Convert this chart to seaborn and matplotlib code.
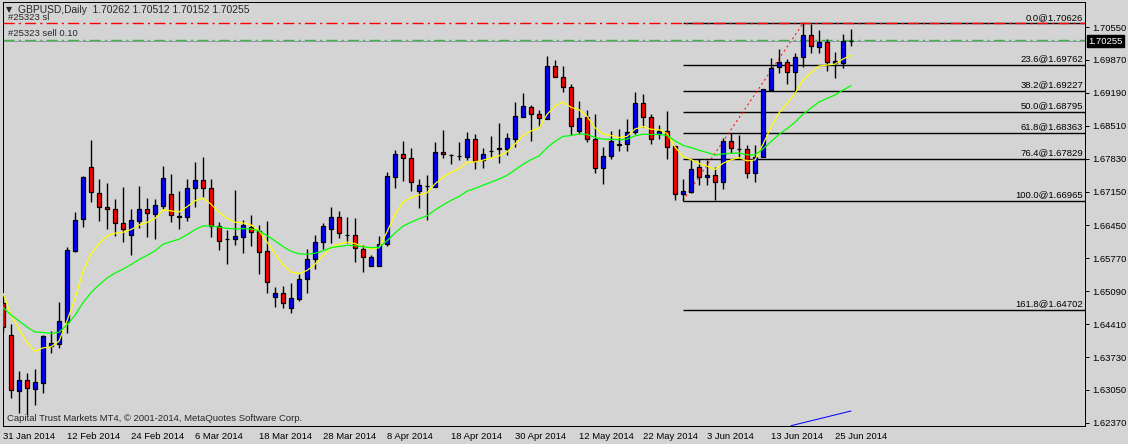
import numpy as np
import pandas as pd
import matplotlib
matplotlib.use("Agg")
import matplotlib.pyplot as plt
import seaborn as sns

W, H = 1128, 444
BG = "#D4D4D4"

# GBPUSD daily candles, 31 Jan 2014 .. 27 Jun 2014
opens = [1.64841, 1.64186, 1.63036, 1.63257, 1.63065, 1.63201, 1.63965, 1.63994, 1.64461, 1.65922,
         1.66577, 1.67651, 1.67114, 1.66825, 1.66784, 1.66494, 1.66246, 1.66548, 1.66784, 1.66680,
         1.66858, 1.67093, 1.66631, 1.66631, 1.67215, 1.67389, 1.67217, 1.66445, 1.66170, 1.66164,
         1.66217, 1.66412, 1.66335, 1.65922, 1.64978, 1.65048, 1.64738, 1.64924, 1.65337, 1.65750,
         1.66114, 1.66370, 1.66618, 1.66257, 1.66246, 1.65957, 1.65618, 1.65618, 1.66060, 1.67461,
         1.67926, 1.67837, 1.67168, 1.67275, 1.67250, 1.67961, 1.67905, 1.67885, 1.67870, 1.68236,
         1.67802, 1.67994, 1.68023, 1.68036, 1.68242, 1.68697, 1.68891, 1.68746, 1.68649, 1.69738,
         1.69511, 1.69304, 1.68408, 1.68684, 1.68230, 1.67643, 1.67891, 1.68133, 1.68127, 1.68374,
         1.68974, 1.68684, 1.68333, 1.68401, 1.68091, 1.67093, 1.67147, 1.67651, 1.67445, 1.67492,
         1.67354, 1.68195, 1.68036, 1.68023, 1.67540, 1.67858, 1.69248, 1.69717, 1.69821, 1.69627,
         1.69924, 1.70385, 1.70131, 1.70246, 1.69800, 1.69812, 1.70262]
highs = [1.64978, 1.64414, 1.63449, 1.63395, 1.63484, 1.64186, 1.64275, 1.64874, 1.66011, 1.66734,
         1.67472, 1.68215, 1.67410, 1.67321, 1.66996, 1.67238, 1.66784, 1.67265, 1.67011, 1.66996,
         1.67684, 1.67513, 1.67168, 1.67403, 1.67767, 1.67858, 1.67403, 1.66527, 1.66356, 1.67182,
         1.66562, 1.66666, 1.66459, 1.66542, 1.65172, 1.65199, 1.65261, 1.65457, 1.65957, 1.66253,
         1.66500, 1.66825, 1.66755, 1.66631, 1.66598, 1.66046, 1.65839, 1.66232, 1.67560, 1.68009,
         1.68201, 1.68044, 1.67403, 1.67492, 1.68180, 1.68422, 1.67926, 1.68168, 1.68374, 1.68333,
         1.68044, 1.68298, 1.68560, 1.68357, 1.69000, 1.69193, 1.68938, 1.68835, 1.69957, 1.69868,
         1.69744, 1.69372, 1.69021, 1.68835, 1.68752, 1.68065, 1.68408, 1.68436, 1.68643, 1.69201,
         1.69166, 1.68752, 1.68525, 1.68814, 1.68091, 1.67403, 1.67816, 1.67816, 1.67802, 1.67657,
         1.68263, 1.68357, 1.68319, 1.68106, 1.68106, 1.69269, 1.69903, 1.70089, 1.69883, 1.70019,
         1.70626, 1.70610, 1.70488, 1.70296, 1.70040, 1.70405, 1.70512]
lows = [1.64255, 1.62891, 1.62569, 1.62534, 1.62740, 1.62994, 1.63821, 1.63912, 1.64234, 1.65908,
        1.66424, 1.66941, 1.66548, 1.66370, 1.66238, 1.66114, 1.65833, 1.66403, 1.66205, 1.66164,
        1.66784, 1.66527, 1.66383, 1.66548, 1.66837, 1.67044, 1.66205, 1.65943, 1.65653, 1.66046,
        1.65874, 1.66031, 1.65447, 1.65060, 1.64771, 1.64738, 1.64635, 1.64899, 1.65060, 1.65540,
        1.65957, 1.66093, 1.66184, 1.66081, 1.65701, 1.65494, 1.65612, 1.65612, 1.66025, 1.67217,
        1.67374, 1.67168, 1.66804, 1.66569, 1.67250, 1.67850, 1.67719, 1.67802, 1.67802, 1.67610,
        1.67643, 1.67858, 1.67746, 1.67905, 1.68065, 1.68684, 1.68201, 1.68490, 1.68649, 1.69511,
        1.69213, 1.68319, 1.68330, 1.68180, 1.67527, 1.67300, 1.67816, 1.67988, 1.67994, 1.68330,
        1.68490, 1.68127, 1.68230, 1.67816, 1.66975, 1.66965, 1.67114, 1.67286, 1.67286, 1.66986,
        1.67203, 1.67953, 1.67837, 1.67424, 1.67354, 1.67858, 1.69234, 1.69593, 1.69366, 1.69213,
        1.69730, 1.70019, 1.70019, 1.69647, 1.69503, 1.69697, 1.70152]
closes = [1.64358, 1.63050, 1.63257, 1.63085, 1.63209, 1.64166, 1.64015, 1.64476, 1.65943, 1.66562,
          1.67445, 1.67135, 1.66825, 1.66784, 1.66494, 1.66370, 1.66562, 1.66784, 1.66701, 1.66866,
          1.67424, 1.66660, 1.66655, 1.67215, 1.67389, 1.67217, 1.66445, 1.66135, 1.66160, 1.66232,
          1.66453, 1.66321, 1.65908, 1.65288, 1.65048, 1.64841, 1.64945, 1.65337, 1.65750, 1.66102,
          1.66439, 1.66618, 1.66288, 1.66246, 1.65978, 1.65792, 1.65804, 1.66060, 1.67472, 1.67926,
          1.67837, 1.67341, 1.67286, 1.67271, 1.67961, 1.67920, 1.67899, 1.67878, 1.68236, 1.67788,
          1.67926, 1.67998, 1.68044, 1.68250, 1.68705, 1.68912, 1.68746, 1.68664, 1.69738, 1.69511,
          1.69304, 1.68505, 1.68664, 1.68230, 1.67643, 1.67885, 1.68195, 1.68122, 1.68374, 1.68974,
          1.68684, 1.68230, 1.68401, 1.68077, 1.67093, 1.67162, 1.67610, 1.67445, 1.67492, 1.67354,
          1.68195, 1.68044, 1.68029, 1.67540, 1.67870, 1.69269, 1.69697, 1.69821, 1.69627, 1.69924,
          1.70385, 1.70157, 1.70234, 1.69833, 1.69848, 1.70261, 1.70255]

date_labels = ["31 Jan 2014", "12 Feb 2014", "24 Feb 2014", "6 Mar 2014", "18 Mar 2014",
               "28 Mar 2014", "8 Apr 2014", "18 Apr 2014", "30 Apr 2014", "12 May 2014",
               "22 May 2014", "3 Jun 2014", "13 Jun 2014", "25 Jun 2014"]
price_ticks = [1.70550, 1.69870, 1.69190, 1.68510, 1.67830, 1.67150, 1.66450,
               1.65770, 1.65090, 1.64410, 1.63730, 1.63050, 1.62370]

fib_levels = [0.0, 23.6, 38.2, 50.0, 61.8, 76.4, 100.0, 161.8]
fib_prices = [1.70626, 1.69762, 1.69227, 1.68795, 1.68363, 1.67829, 1.66965, 1.64702]
fib_from, fib_to = 85, 100

# EMA values at the first visible bar
ema8_first = 1.65048
ema21_first = 1.64755

sl_price = 1.70632
entry_price = 1.70292
bid_price = 1.70255
header = "GBPUSD,Daily  1.70262 1.70512 1.70152 1.70255"

blue_x = [98.5, 106]
blue_y = [1.62312, 1.62616]

# ---------------------------------------------------------------------------
sns.set_style("white", {"axes.facecolor": BG, "figure.facecolor": BG,
                        "axes.edgecolor": "black"})
plt.rcParams['font.family'] = ['Liberation Sans', 'DejaVu Sans']
FS = 6.8
PX = 0.72  # one pixel in points

o, h, l, c = (np.array(a) for a in (opens, highs, lows, closes))
idx = np.arange(len(o))

df = pd.DataFrame({"bar": idx, "close": c})
df["ema8"] = pd.Series(np.r_[ema8_first, c[1:]]).ewm(span=8, adjust=False).mean()
df["ema21"] = pd.Series(np.r_[ema21_first, c[1:]]).ewm(span=21, adjust=False).mean()

fig = plt.figure(figsize=(W / 100, H / 100), dpi=100)
x_left, x_right, y_top, y_bot = 2.7, 1085, 2, 426
ax = fig.add_axes([x_left / W, 1 - y_bot / H, (x_right - x_left) / W, (y_bot - y_top) / H])
ax.set_facecolor(BG)

xmax = 135.25
ax.set_xlim(-0.04, xmax)
ax.set_ylim(1.62306, 1.71067)

# fibonacci retracement
ax.hlines(fib_prices, fib_from, xmax, color="black", lw=1.0, zorder=1)
for lvl, p in zip(fib_levels, fib_prices):
    ax.annotate(f"{lvl:.1f}@{p:.5f}", xy=(1, p), xycoords=("axes fraction", "data"),
                xytext=(-2, 1.5), textcoords="offset pixels", ha="right", va="bottom",
                fontsize=FS, color="black")
ax.plot([fib_from, fib_to], [fib_prices[-2], fib_prices[0]], color="#FF0000", lw=PX,
        dashes=(2, 3), zorder=1)

# order lines and bid line
ax.axhline(sl_price, color="#FF0000", lw=1.0, dashes=(8, 3, 1.5, 3), zorder=1.5)
ax.axhline(entry_price, color="#3CB83C", lw=1.0, dashes=(8, 3, 1.5, 3), zorder=1)
ax.axhline(bid_price, color="#8C9AA8", lw=PX, zorder=1)

# candles
up = c >= o
ax.vlines(idx, l, h, color="black", lw=1.0, zorder=2)
ax.bar(idx, np.maximum(np.abs(c - o), 1e-6), bottom=np.minimum(o, c), width=0.58,
       color=np.where(up, "#0000FF", "#FF0000"), edgecolor="black", linewidth=0.9, zorder=3)

# moving averages
sns.lineplot(data=df, x="bar", y="ema8", color="#FFFF00", lw=0.9, ax=ax, zorder=4)
sns.lineplot(data=df, x="bar", y="ema21", color="#00FF00", lw=0.9, ax=ax, zorder=4)
ax.plot(blue_x, blue_y, color="#0000FF", lw=PX, zorder=4)

# axes
for s in ax.spines.values():
    s.set_color("black")
    s.set_linewidth(PX)
ax.set_xlabel("")
ax.set_ylabel("")
ax.yaxis.tick_right()
ax.set_yticks(price_ticks)
ax.set_yticklabels([f"{t:.5f}" for t in price_ticks])
ax.set_xticks(np.arange(0, 8 * len(date_labels), 8))
ax.set_xticklabels(date_labels, ha="left")
ax.tick_params(axis="both", direction="out", length=3, width=PX, color="black",
               labelsize=FS, labelcolor="black")
ax.tick_params(axis="y", pad=2)
ax.tick_params(axis="x", pad=1)

# current price box
fig.text(1088 / W, 1 - 41.3 / H, f"{bid_price:.5f}", fontsize=FS, color="white",
         va="center", ha="left",
         bbox=dict(boxstyle="square,pad=0.15", fc="black", ec="black"))

# header and labels
fig.text(6 / W, 1 - 10 / H, "\u25bc", fontsize=FS - 1, va="center", ha="left",
         family=["DejaVu Sans"])
fig.text(18 / W, 1 - 10 / H, header, fontsize=FS + 0.6, va="center", ha="left")
fig.text(8 / W, 1 - 18 / H, "#25323 sl", fontsize=FS, va="center", ha="left")
fig.text(8 / W, 1 - 33 / H, "#25323 sell 0.10", fontsize=FS, va="center", ha="left")
fig.text(7 / W, 1 - 418 / H, "Capital Trust Markets MT4, \u00a9 2001-2014, MetaQuotes Software Corp.",
         fontsize=FS, va="center", ha="left")

fig.savefig("out.png", dpi=100, facecolor=BG)
